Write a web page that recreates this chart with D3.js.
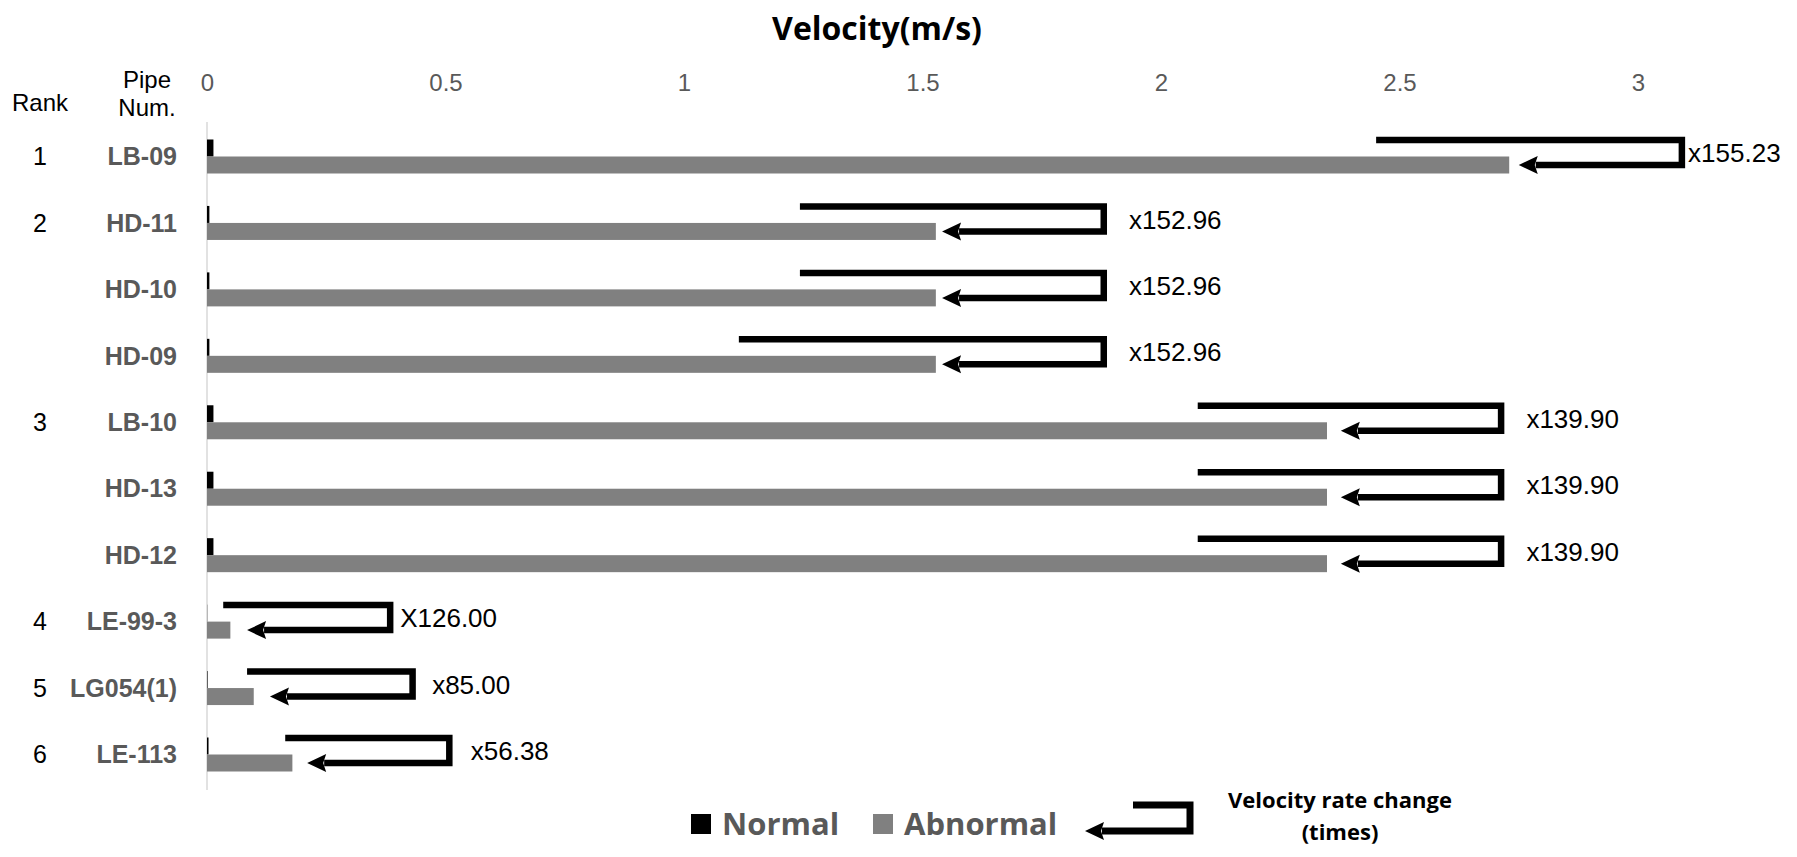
<!DOCTYPE html>
<html>
<head>
<meta charset="utf-8">
<script src="https://cdn.jsdelivr.net/npm/d3@7"></script>
<style>
  body { margin: 0; background: #fff; }
  svg { display: block; }
</style>
</head>
<body>
<div id="chart"></div>
<script>
// data
const pipes = ["LB-09", "HD-11", "HD-10", "HD-09", "LB-10", "HD-13", "HD-12", "LE-99-3", "LG054(1)", "LE-113"];
const ranks = ["1", "2", "", "", "3", "", "", "4", "5", "6"];
const normal = [0.0135, 0.005, 0.005, 0.005, 0.0135, 0.0135, 0.0135, 0.0004, 0.0012, 0.0032];
const abnormal = [2.73, 1.528, 1.528, 1.528, 2.348, 2.348, 2.348, 0.049, 0.098, 0.179];
const rateLabels = ["x155.23", "x152.96", "x152.96", "x152.96", "x139.90", "x139.90", "x139.90", "X126.00", "x85.00", "x56.38"];
// annotation brackets (velocity units): start of top line, right edge, arrow tip, label start
const bracketStart = [2.451, 1.243, 1.243, 1.115, 2.077, 2.077, 2.077, 0.034, 0.084, 0.164];
const bracketEnd = [3.092, 1.88, 1.88, 1.88, 2.713, 2.713, 2.713, 0.384, 0.431, 0.508];
const arrowTip = [2.75, 1.541, 1.541, 1.541, 2.377, 2.377, 2.377, 0.084, 0.132, 0.21];
const labelAt = [3.105, 1.933, 1.933, 1.933, 2.766, 2.766, 2.766, 0.405, 0.472, 0.553];
const tickValues = [0, 0.5, 1, 1.5, 2, 2.5, 3];
const seriesNames = ["Normal", "Abnormal"];

const W = 1797, H = 857;
const barH = 17;

const svg = d3.select("#chart")
    .append("svg")
    .attr("width", W)
    .attr("height", H);

const x = d3.scaleLinear().domain([0, 3]).range([207, 1638]);
const y = d3.scalePoint().domain(pipes).range([156.5, 754.5]);
const sub = d3.scaleBand().domain(seriesNames).range([-barH, barH]);

const grayText = "#595959";
const sans = "'Liberation Sans', Arial, sans-serif";
const bold = "'Open Sans', 'Noto Sans', sans-serif";

// title
svg.append("text")
    .attr("x", 877)
    .attr("y", 29)
    .attr("dy", "0.35em")
    .attr("text-anchor", "middle")
    .style("font-family", bold)
    .style("font-weight", "bold")
    .style("font-size", "32px")
    .text("Velocity(m/s)");

// top axis labels
const axis = svg.append("g")
    .attr("transform", "translate(0,83)")
    .call(d3.axisTop(x).tickValues(tickValues).tickSize(0).tickFormat(d3.format("~g")));
axis.select(".domain").remove();
axis.selectAll("text")
    .attr("y", 0)
    .attr("dy", "0.35em")
    .style("font-family", sans)
    .style("font-size", "24px")
    .attr("fill", grayText);

// header
svg.append("text").attr("x", 40).attr("y", 103).attr("dy", "0.35em")
    .attr("text-anchor", "middle")
    .style("font-family", sans).style("font-size", "24px").text("Rank");
svg.append("text").attr("x", 147).attr("y", 80).attr("dy", "0.35em")
    .attr("text-anchor", "middle")
    .style("font-family", sans).style("font-size", "24px").text("Pipe");
svg.append("text").attr("x", 147).attr("y", 108).attr("dy", "0.35em")
    .attr("text-anchor", "middle")
    .style("font-family", sans).style("font-size", "24px").text("Num.");

// vertical axis line
svg.append("line")
    .attr("x1", x(0)).attr("x2", x(0))
    .attr("y1", 122).attr("y2", 790)
    .attr("stroke", "#d9d9d9")
    .attr("stroke-width", 1.5);

// row labels
const rows = svg.selectAll(".row")
    .data(pipes)
    .enter()
    .append("g")
    .attr("class", "row")
    .attr("transform", d => `translate(0,${y(d)})`);

rows.append("text")
    .attr("x", 177)
    .attr("dy", "0.35em")
    .attr("text-anchor", "end")
    .attr("fill", grayText)
    .style("font-family", sans)
    .style("font-weight", "bold")
    .style("font-size", "25px")
    .text(d => d);

rows.append("text")
    .attr("x", 40)
    .attr("dy", "0.35em")
    .attr("text-anchor", "middle")
    .style("font-family", sans)
    .style("font-size", "25px")
    .text((d, i) => ranks[i]);

// bars
rows.append("rect")
    .attr("x", x(0))
    .attr("y", sub("Normal"))
    .attr("width", (d, i) => x(normal[i]) - x(0))
    .attr("height", sub.bandwidth())
    .attr("fill", "#000");

rows.append("rect")
    .attr("x", x(0))
    .attr("y", sub("Abnormal"))
    .attr("width", (d, i) => x(abnormal[i]) - x(0))
    .attr("height", sub.bandwidth())
    .attr("fill", "#808080");

// rate change brackets
const gc = sub("Abnormal") + sub.bandwidth() / 2;
const head = 19;

rows.append("path")
    .attr("d", (d, i) => `M${x(bracketStart[i])},${gc - 25}H${x(bracketEnd[i])}V${gc}H${x(arrowTip[i]) + head - 2}`)
    .attr("fill", "none")
    .attr("stroke", "#000")
    .attr("stroke-width", 6.5)
    .attr("stroke-linejoin", "miter");

rows.append("path")
    .attr("d", (d, i) => {
        const t = x(arrowTip[i]);
        return `M${t},${gc}L${t + head},${gc - 9}L${t + head - 3},${gc}L${t + head},${gc + 9}Z`;
    })
    .attr("fill", "#000");

rows.append("text")
    .attr("x", (d, i) => x(labelAt[i]))
    .attr("y", gc - 12)
    .attr("dy", "0.35em")
    .style("font-family", sans)
    .style("font-size", "26px")
    .text((d, i) => rateLabels[i]);

// legend
const legend = svg.append("g");
const legendX = [691, 873];
const legendColors = ["#000", "#808080"];
seriesNames.forEach((s, i) => {
    legend.append("rect")
        .attr("x", legendX[i]).attr("y", 814)
        .attr("width", 20).attr("height", 20)
        .attr("fill", legendColors[i]);
    legend.append("text")
        .attr("x", legendX[i] + 31).attr("y", 835)
        .attr("fill", grayText)
        .style("font-family", bold)
        .style("font-weight", "bold")
        .style("font-size", "31px")
        .text(s);
});

legend.append("path")
    .attr("d", `M1133,805H1190V831H${1085 + head - 2}`)
    .attr("fill", "none")
    .attr("stroke", "#000")
    .attr("stroke-width", 7);
legend.append("path")
    .attr("d", `M1085,831L${1085 + head},822L${1085 + head - 3},831L${1085 + head},840Z`)
    .attr("fill", "#000");

legend.append("text")
    .attr("x", 1340).attr("y", 800).attr("dy", "0.35em")
    .attr("text-anchor", "middle")
    .style("font-family", bold)
    .style("font-weight", "bold")
    .style("font-size", "22px")
    .text("Velocity rate change");
legend.append("text")
    .attr("x", 1340).attr("y", 832).attr("dy", "0.35em")
    .attr("text-anchor", "middle")
    .style("font-family", bold)
    .style("font-weight", "bold")
    .style("font-size", "22px")
    .text("(times)");
</script>
</body>
</html>
